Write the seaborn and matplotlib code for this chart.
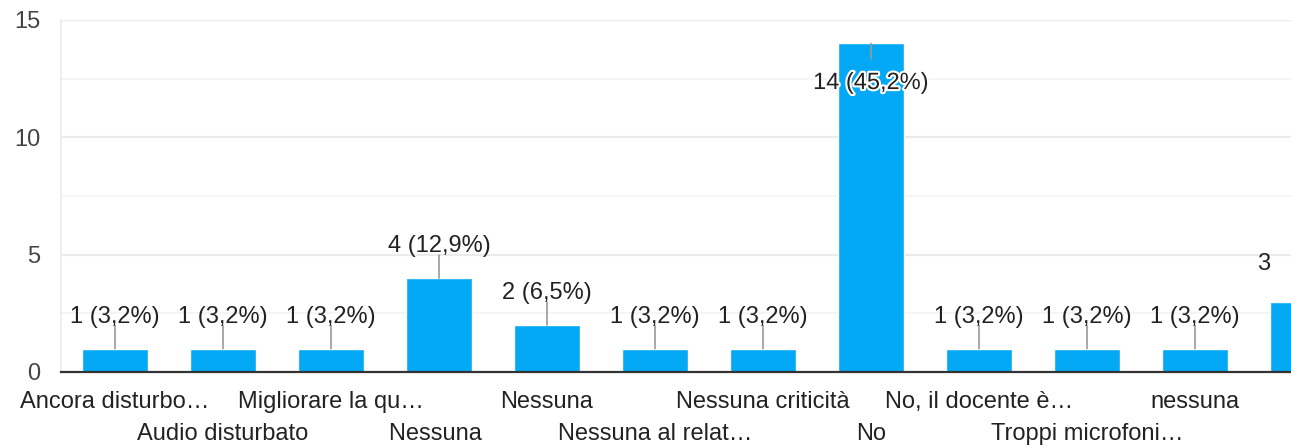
import matplotlib
matplotlib.use("Agg")
import matplotlib.pyplot as plt
import matplotlib.patheffects as pe
from matplotlib.transforms import Bbox, TransformedBbox
import seaborn as sns

# Risposte (categorie) e conteggi
categories = [
    "Ancora disturbo…", "Audio disturbato", "Migliorare la qu…", "Nessuna ",
    "Nessuna", "Nessuna al relat…", "Nessuna criticità", "No",
    "No, il docente è…", "Troppi microfoni…", "nessuna", "nessuna criticità",
]
counts = [1, 1, 1, 4, 2, 1, 1, 14, 1, 1, 1, 3]
# the last tick label is dropped in the original (no room)
tick_labels = categories[:-1] + [""]

total = sum(counts)
bar_color = "#03a9f4"
text_color = "#222222"
fs = 17

sns.set_style("white")
plt.rcParams["font.family"] = ["Liberation Sans", "DejaVu Sans"]

fig = plt.figure(figsize=(12.91, 4.45), dpi=100)
# axes run past the right edge, like the cropped screenshot
ax = fig.add_axes([61 / 1291, 73 / 445, 1296 / 1291, 352 / 445])

sns.barplot(x=categories, y=counts, color=bar_color, saturation=1,
            width=0.62, ax=ax, zorder=3)

ax.set_xlim(-0.5, len(categories) - 0.5)
ax.set_ylim(0, 15)
ax.set_yticks([0, 5, 10, 15])
ax.set_yticks([2.5, 7.5, 12.5], minor=True)
ax.grid(axis="y", which="major", color="#ebebeb", lw=1.6, zorder=0)
ax.grid(axis="y", which="minor", color="#f4f4f4", lw=1.2, zorder=0)
ax.set_axisbelow(True)

for side in ["top", "right"]:
    ax.spines[side].set_visible(False)
ax.spines["left"].set_color("#ebebeb")
ax.spines["left"].set_linewidth(1.2)
ax.spines["bottom"].set_color("#333333")
ax.spines["bottom"].set_linewidth(1.6)
ax.spines["bottom"].set_zorder(5)

ax.tick_params(axis="y", which="both", length=0, pad=15, labelsize=fs,
               labelcolor="#444444")
ax.tick_params(axis="x", length=0, pad=13.5, labelsize=fs, labelcolor=text_color)

ax.set_xticks(range(len(categories)))
ax.set_xticklabels(tick_labels)
# two staggered rows of category labels
for i, lab in enumerate(ax.get_xticklabels()):
    if i % 2 == 1:
        lab.set_y(-0.091)
ax.set_xlabel("")
ax.set_ylabel("")

line_kw = dict(arrowstyle="-", color="#999999", lw=1.2, shrinkA=0, shrinkB=0)
clip = TransformedBbox(Bbox([[0, 0], [1277 / 1291, 1]]), fig.transFigure)

# value labels with leader lines
for i, v in enumerate(counts):
    txt = f"{v} ({v / total * 100:.1f}%)".replace(".", ",")
    if v + 1.5 < 15:
        off = 23 if i < len(counts) - 1 else 27
        t = ax.annotate(txt, xy=(i, v), xytext=(0, off), textcoords="offset points",
                        ha="center", va="center", fontsize=fs, color=text_color,
                        zorder=6, annotation_clip=False)
        t.set_clip_box(clip)
        t.set_clip_on(True)
        ax.annotate("", xy=(i, v), xytext=(0, 16.5), textcoords="offset points",
                    arrowprops=line_kw, zorder=4)
    else:
        ax.annotate("", xy=(i, v), xytext=(0, -11), textcoords="offset points",
                    arrowprops=line_kw, zorder=4)
        ax.annotate(txt, xy=(i, v), xytext=(0, -28.5), textcoords="offset points",
                    ha="center", va="center", fontsize=fs, color=text_color, zorder=6,
                    path_effects=[pe.withStroke(linewidth=3, foreground="white")])

fig.savefig("out.png", dpi=100)
